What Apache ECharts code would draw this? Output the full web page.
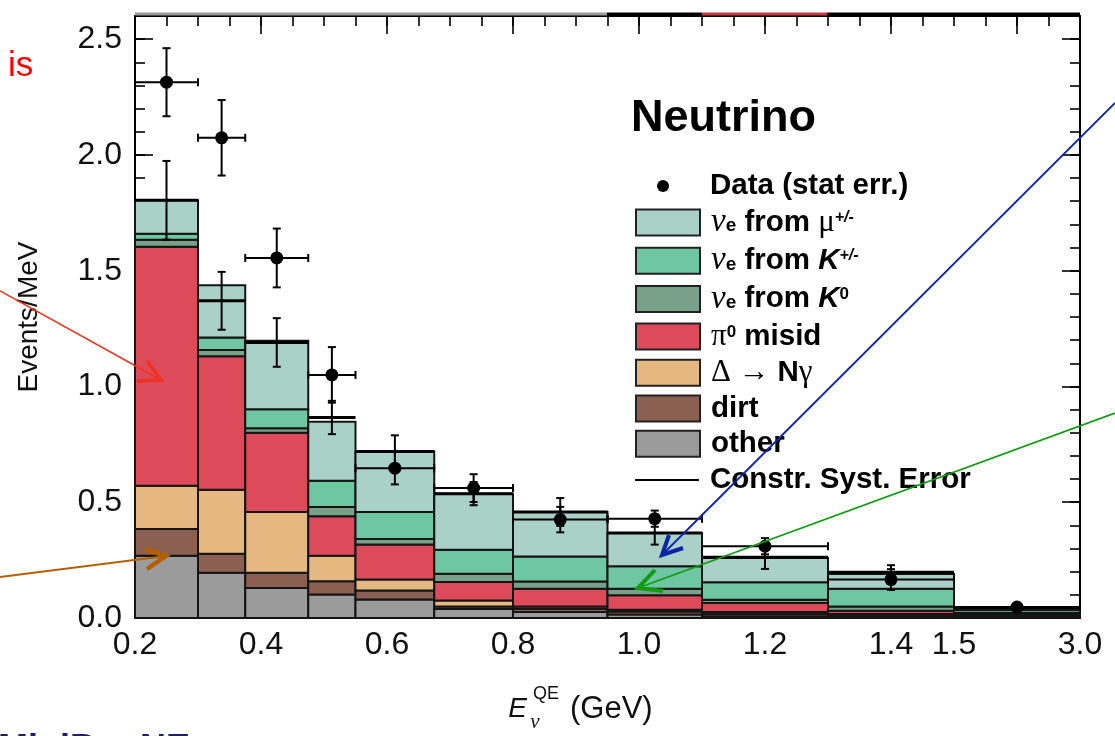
<!DOCTYPE html>
<html>
<head>
    <meta charset="UTF-8">
    <title>Neutrino excess</title>
    <script src="https://cdn.jsdelivr.net/npm/echarts@6/dist/echarts.min.js"></script>
    <style>
        html, body { margin: 0; padding: 0; background: #fff; }
        #chart { width: 1115px; height: 736px; }
    </style>
</head>
<body>
    <div id="chart"></div>

    <script>
        // bin edges in GeV, last bin (1.5 - 3.0) is squeezed on the axis
        var binEdges = [0.2, 0.3, 0.375, 0.475, 0.55, 0.675, 0.8, 0.95, 1.1, 1.3, 1.5, 3.0];
        var xTickLabels = ['0.2', '0.4', '0.6', '0.8', '1.0', '1.2', '1.4', '1.5', '3.0'];
        var yTickLabels = ['0.0', '0.5', '1.0', '1.5', '2.0', '2.5'];

        // backgrounds, Events/MeV per bin (stacked bottom to top)
        var other   = [0.269, 0.195, 0.130, 0.101, 0.080, 0.039, 0.026, 0.015, 0.008, 0.005, 0.003];
        var dirt    = [0.115, 0.083, 0.065, 0.058, 0.039, 0.011, 0.014, 0.013, 0.010, 0.005, 0.005];
        var deltaNg = [0.187, 0.276, 0.263, 0.110, 0.047, 0.026, 0.010, 0.008, 0.008, 0.007, 0.004];
        var pi0     = [1.032, 0.577, 0.342, 0.170, 0.151, 0.079, 0.076, 0.062, 0.039, 0.014, 0.006];
        var nueK0   = [0.031, 0.026, 0.020, 0.040, 0.024, 0.036, 0.032, 0.028, 0.014, 0.019, 0.005];
        var nueK    = [0.026, 0.055, 0.082, 0.114, 0.117, 0.104, 0.108, 0.097, 0.075, 0.076, 0.012];
        var nueMu   = [0.144, 0.225, 0.295, 0.255, 0.261, 0.242, 0.192, 0.144, 0.105, 0.064, 0.008];

        // data with stat error
        var dataVal = [2.314, 2.074, 1.555, 1.050, 0.647, 0.561, 0.425, 0.429, 0.310, 0.166, 0.047];
        var dataErr = [0.147, 0.163, 0.127, 0.120, 0.070, 0.060, 0.055, 0.035, 0.035, 0.045, 0.012];

        // constrained prediction and its syst error
        var constrVal = [1.804, 1.370, 1.190, 0.866, 0.719, 0.537, 0.458, 0.367, 0.262, 0.198, 0.045];
        var constrErr = [0.170, 0.125, 0.105, 0.072, 0.070, 0.050, 0.060, 0.050, 0.050, 0.030, 0.006];

        function toU(g) {
            return g <= 1.5 ? g : 1.5 + (g - 1.5) * 0.2 / 1.5;
        }

        var chart = echarts.init(document.getElementById('chart'), null, {renderer: 'canvas'});

        var stackDefs = [
            {name: 'other', values: other, color: '#9b9b9b'},
            {name: 'dirt', values: dirt, color: '#8b6052'},
            {name: 'Δ → Nγ', values: deltaNg, color: '#e4b880'},
            {name: 'π0 misid', values: pi0, color: '#dd4a5a'},
            {name: 'νe from K0', values: nueK0, color: '#79a189'},
            {name: 'νe from K+/-', values: nueK, color: '#6fc6a2'},
            {name: 'νe from μ+/-', values: nueMu, color: '#a9d1c7'}
        ];

        function renderBox(params, api) {
            var p0 = api.coord([api.value(0), api.value(3)]);
            var p1 = api.coord([api.value(1), api.value(2)]);
            return {
                type: 'rect',
                shape: {x: p0[0], y: p0[1], width: p1[0] - p0[0], height: p1[1] - p0[1]},
                style: {fill: api.visual('color'), stroke: '#151515', lineWidth: 2}
            };
        }

        function renderConstr(params, api) {
            var v = api.value(2), e = api.value(3);
            var l = api.coord([api.value(0), v]);
            var r = api.coord([api.value(1), v]);
            var t = api.coord([api.value(4), v + e]);
            var b = api.coord([api.value(4), v - e]);
            var st = {stroke: '#000', lineWidth: 2};
            return {
                type: 'group',
                children: [
                    {type: 'line', shape: {x1: l[0], y1: l[1], x2: r[0], y2: r[1]}, style: {stroke: '#000', lineWidth: 3}},
                    {type: 'line', shape: {x1: t[0], y1: t[1], x2: b[0], y2: b[1]}, style: st},
                    {type: 'line', shape: {x1: t[0] - 4, y1: t[1], x2: t[0] + 4, y2: t[1]}, style: st},
                    {type: 'line', shape: {x1: b[0] - 4, y1: b[1], x2: b[0] + 4, y2: b[1]}, style: st}
                ]
            };
        }

        function renderData(params, api) {
            var v = api.value(1), e = api.value(2);
            var c = api.coord([api.value(0), v]);
            var l = api.coord([api.value(3), v]);
            var r = api.coord([api.value(4), v]);
            var t = api.coord([api.value(0), v + e]);
            var b = api.coord([api.value(0), v - e]);
            var st = {stroke: '#000', lineWidth: 2};
            return {
                type: 'group',
                children: [
                    {type: 'line', shape: {x1: l[0], y1: c[1], x2: r[0], y2: c[1]}, style: st},
                    {type: 'line', shape: {x1: l[0], y1: c[1] - 4, x2: l[0], y2: c[1] + 4}, style: st},
                    {type: 'line', shape: {x1: r[0], y1: c[1] - 4, x2: r[0], y2: c[1] + 4}, style: st},
                    {type: 'line', shape: {x1: c[0], y1: t[1], x2: c[0], y2: b[1]}, style: st},
                    {type: 'line', shape: {x1: c[0] - 4, y1: t[1], x2: c[0] + 4, y2: t[1]}, style: st},
                    {type: 'line', shape: {x1: c[0] - 4, y1: b[1], x2: c[0] + 4, y2: b[1]}, style: st},
                    {type: 'circle', shape: {cx: c[0], cy: c[1], r: 6.5}, style: {fill: '#000'}}
                ]
            };
        }

        var base = dataVal.map(function () { return 0; });
        var series = stackDefs.map(function (d) {
            var rows = d.values.map(function (v, i) {
                var row = [toU(binEdges[i]), toU(binEdges[i + 1]), base[i], base[i] + v];
                base[i] += v;
                return row;
            });
            return {
                type: 'custom',
                name: d.name,
                data: rows,
                renderItem: renderBox,
                itemStyle: {color: d.color, borderColor: '#151515', borderWidth: 2},
                encode: {x: [0, 1], y: [2, 3]},
                z: 10
            };
        });

        series.push({
            type: 'custom',
            name: 'Constr. Syst. Error',
            data: constrVal.map(function (v, i) {
                return [toU(binEdges[i]), toU(binEdges[i + 1]), v, constrErr[i], toU((binEdges[i] + binEdges[i + 1]) / 2)];
            }),
            renderItem: renderConstr,
            itemStyle: {color: '#000'},
            encode: {x: [0, 1], y: 2},
            z: 11
        });

        series.push({
            type: 'custom',
            name: 'Data (stat err.)',
            data: dataVal.map(function (v, i) {
                return [toU((binEdges[i] + binEdges[i + 1]) / 2), v, dataErr[i], toU(binEdges[i]), toU(binEdges[i + 1])];
            }),
            renderItem: renderData,
            itemStyle: {color: '#000'},
            encode: {x: 0, y: 1},
            z: 12
        });

        var FONT = 'Liberation Sans';

        function xLabel(v) {
            for (var i = 0; i < xTickLabels.length; i++) {
                if (Math.abs(toU(parseFloat(xTickLabels[i])) - v) < 1e-6) return xTickLabels[i];
            }
            return '';
        }
        function yLabel(v) {
            for (var i = 0; i < yTickLabels.length; i++) {
                if (Math.abs(parseFloat(yTickLabels[i]) - v) < 1e-6) return yTickLabels[i];
            }
            return '';
        }

        // grid 0 carries the minor ticks and the data, grid 1 (same box) only the long major ticks
        function xAx(grid, pos, interval, len, withLabels, withTicks) {
            return {
                type: 'value', gridIndex: grid, position: pos, min: 0.2, max: 1.7, interval: interval, z: 0,
                axisLine: {show: grid === 0, onZero: false, lineStyle: {color: '#000', width: 2}},
                axisTick: {show: withTicks, inside: true, length: len, lineStyle: {color: '#000', width: 1.6}},
                axisLabel: {
                    show: withLabels, formatter: xLabel, margin: 11, color: '#111',
                    fontSize: 32, fontFamily: FONT
                },
                splitLine: {show: false}
            };
        }
        function yAx(grid, pos, interval, len, withLabels) {
            return {
                type: 'value', gridIndex: grid, position: pos, min: 0, max: 2.6, interval: interval, z: 0,
                axisLine: {show: grid === 0, onZero: false, lineStyle: {color: '#000', width: 2}},
                axisTick: {show: true, inside: true, length: len, lineStyle: {color: '#000', width: 1.6}},
                axisLabel: {
                    show: withLabels, formatter: yLabel, margin: 13, color: '#111',
                    fontSize: 32, fontFamily: FONT
                },
                splitLine: {show: false}
            };
        }

        // ticks on the bottom edge are hidden under the histogram anyway
        var xAxes = [xAx(0, 'bottom', 0.05, 10, true, false), xAx(0, 'top', 0.05, 10, false, true),
                     xAx(1, 'top', 0.2, 18, false, true)];
        xAxes[0].name = '{e|E}{sa| }{sub|ν}{sb| }{sup|QE}{sc| }{r|(GeV)}';
        xAxes[0].nameLocation = 'middle';
        xAxes[0].nameGap = 67;
        xAxes[0].nameTextStyle = {
            padding: [0, 54, 0, 0],
            rich: {
                e: {fontFamily: FONT, fontStyle: 'italic', fontSize: 28, lineHeight: 30, color: '#111'},
                sa: {fontSize: 10, width: 8, lineHeight: 30},
                sb: {fontSize: 10, width: 11, lineHeight: 30},
                sc: {fontSize: 10, width: 24, lineHeight: 30},
                sup: {fontFamily: FONT, fontSize: 18, width: 0, lineHeight: 48, verticalAlign: 'top', color: '#111'},
                sub: {fontFamily: 'Liberation Serif', fontStyle: 'italic', fontSize: 21, width: 0, padding: [24, 0, 0, 0], verticalAlign: 'bottom', color: '#111'},
                r: {fontFamily: FONT, fontSize: 31, lineHeight: 30, color: '#111'}
            }
        };

        var yAxes = [yAx(0, 'left', 0.1, 10, true), yAx(0, 'right', 0.1, 10, false),
                     yAx(1, 'left', 0.5, 18, false), yAx(1, 'right', 0.5, 18, false)];
        yAxes[0].name = 'Events/MeV';
        yAxes[0].nameLocation = 'middle';
        yAxes[0].nameGap = 92;
        yAxes[0].nameTextStyle = {fontSize: 28, fontFamily: FONT, color: '#111'};

        var legendText = {
            'Data (stat err.)': '{sp36| }{b|Data (stat err.)}',
            'νe from μ+/-': '{sp| }{nu|ν}{e|e}{b| from }{g|μ}{sup|+/-}',
            'νe from K+/-': '{sp| }{nu|ν}{e|e}{b| from }{bi|K}{sup|+/-}',
            'νe from K0': '{sp| }{nu|ν}{e|e}{b| from }{bi|K}{sup0|0}',
            'π0 misid': '{sp| }{g|π}{sup0|0}{b| misid}',
            'Δ → Nγ': '{sp| }{g|Δ → }{b|N}{g|γ}',
            'dirt': '{sp| }{b|dirt}',
            'other': '{sp| }{b|other}',
            'Constr. Syst. Error': '{sp| }{b|Constr. Syst. Error}'
        };
        var legendRich = {
            sp: {width: 6, lineHeight: 26},
            sp36: {width: 36, lineHeight: 26},
            b: {fontFamily: FONT, fontWeight: 'bold', fontSize: 29.5, lineHeight: 26, color: '#000'},
            bi: {fontFamily: FONT, fontWeight: 'bold', fontStyle: 'italic', fontSize: 29.5, lineHeight: 26, color: '#000'},
            nu: {fontFamily: 'Liberation Serif', fontStyle: 'italic', fontSize: 33, lineHeight: 26, color: '#000'},
            e: {fontFamily: FONT, fontWeight: 'bold', fontSize: 19, lineHeight: 12, verticalAlign: 'bottom', color: '#000'},
            sup: {fontFamily: FONT, fontWeight: 'bold', fontStyle: 'italic', fontSize: 16, lineHeight: 12, verticalAlign: 'top', color: '#000'},
            sup0: {fontFamily: FONT, fontWeight: 'bold', fontSize: 17, lineHeight: 12, verticalAlign: 'top', color: '#000'},
            g: {fontFamily: 'Liberation Serif', fontSize: 31, lineHeight: 26, color: '#000'}
        };
        function legendFmt(name) { return legendText[name] || name; }

        function boxItem(d) {
            return {name: d.name, icon: 'rect', itemStyle: {color: d.color, borderColor: '#222', borderWidth: 2}};
        }

        function arrow(color, from, tip, a1, a2, w, hw) {
            return {
                type: 'group', z: 100,
                children: [
                    {type: 'line', z: 100, shape: {x1: from[0], y1: from[1], x2: tip[0], y2: tip[1]}, style: {stroke: color, lineWidth: w}},
                    {type: 'polyline', z: 100, shape: {points: [a1, tip, a2]}, style: {stroke: color, lineWidth: hw, fill: null}}
                ]
            };
        }

        var gridBox = {left: 135, right: 35, top: 16, bottom: 118, containLabel: false, outerBoundsMode: 'none'};

        var option = {
            backgroundColor: '#fff',
            animation: false,
            title: {
                text: 'Neutrino', left: 631, top: 96, padding: 0,
                textStyle: {fontSize: 45, fontWeight: 'bold', fontFamily: FONT, color: '#000'}
            },
            grid: [gridBox, Object.assign({}, gridBox)],
            xAxis: xAxes,
            yAxis: yAxes,
            legend: [
                {
                    orient: 'vertical', left: 657, top: 171, padding: 0, selectedMode: false,
                    itemWidth: 12, itemHeight: 12,
                    data: [{name: 'Data (stat err.)', icon: 'circle', itemStyle: {color: '#000'}}],
                    formatter: legendFmt, textStyle: {rich: legendRich}
                },
                {
                    orient: 'vertical', left: 635, top: 206, padding: 0, selectedMode: false,
                    itemWidth: 64, itemHeight: 26, itemGap: 5.3,
                    data: stackDefs.slice().reverse().map(boxItem),
                    formatter: legendFmt, textStyle: {rich: legendRich}
                },
                {
                    orient: 'vertical', left: 635, top: 465, padding: 0, selectedMode: false,
                    itemWidth: 64, itemHeight: 2,
                    data: [{name: 'Constr. Syst. Error', icon: 'rect', itemStyle: {color: '#000'}}],
                    formatter: legendFmt, textStyle: {rich: legendRich}
                }
            ],
            graphic: [
                {type: 'line', z: 50, shape: {x1: 135, y1: 14, x2: 607, y2: 14}, style: {stroke: '#999', lineWidth: 3}},
                {type: 'line', z: 50, shape: {x1: 607, y1: 14, x2: 702, y2: 14}, style: {stroke: '#000', lineWidth: 3}},
                {type: 'line', z: 50, shape: {x1: 702, y1: 14, x2: 827, y2: 14}, style: {stroke: '#c43a48', lineWidth: 3}},
                {type: 'line', z: 50, shape: {x1: 827, y1: 14, x2: 1080, y2: 14}, style: {stroke: '#000', lineWidth: 3}},
                {type: 'text', z: 100, x: 8, y: 66, style: {text: 'is', fill: '#ff0000', font: '35px "Liberation Sans"', verticalAlign: 'middle'}},
                {type: 'text', z: 100, x: -2, y: 750, style: {text: 'MiniBooNE', fill: '#1c1f6b', font: 'bold 36px "Liberation Sans"', verticalAlign: 'middle'}},
                arrow('#f2311e', [0, 291], [161, 380], [147, 361], [137, 381], 1.5, 3.5),
                arrow('#b35f00', [0, 577], [166, 556], [145, 549], [147, 569], 2, 4.5),
                arrow('#0b25a8', [1115, 103], [662, 555], [669, 535], [683, 548], 1.8, 4),
                arrow('#129b12', [1115, 413], [638, 588], [655, 570], [663, 591], 1.8, 4)
            ],
            series: series
        };

        chart.setOption(option);
    </script>
</body>
</html>
